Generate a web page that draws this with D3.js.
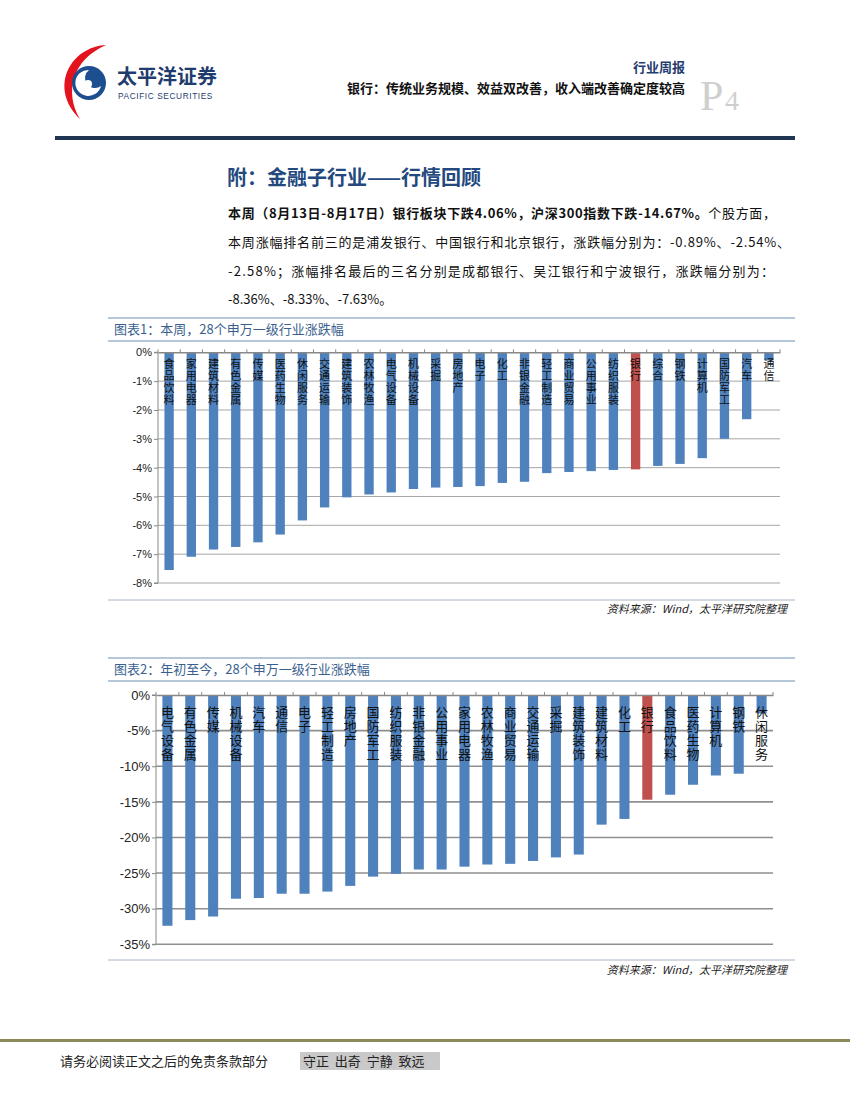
<!DOCTYPE html>
<html><head><meta charset="utf-8">
<script src="https://cdn.jsdelivr.net/npm/d3@7/dist/d3.min.js"></script>
<style>
body{margin:0;background:#fff;}
svg{display:block;font-family:"Noto Sans CJK SC","Noto Sans",sans-serif;}
.vlab{writing-mode:vertical-rl;text-orientation:upright;}
</style></head>
<body><svg id="page" width="850" height="1100"></svg>
<script>
// ---------- DATA ----------
const weekCategories = ["食品饮料","家用电器","建筑材料","有色金属","传媒","医药生物","休闲服务","交通运输","建筑装饰","农林牧渔","电气设备","机械设备","采掘","房地产","电子","化工","非银金融","轻工制造","商业贸易","公用事业","纺织服装","银行","综合","钢铁","计算机","国防军工","汽车","通信"];
const weekValues = [-7.55,-7.09,-6.84,-6.75,-6.59,-6.32,-5.83,-5.38,-5.03,-4.93,-4.86,-4.74,-4.69,-4.67,-4.64,-4.53,-4.49,-4.19,-4.15,-4.12,-4.08,-4.06,-3.94,-3.87,-3.67,-3.0,-2.32,-0.28];
const weekTicks = [0,-1,-2,-3,-4,-5,-6,-7,-8];

const ytdCategories = ["电气设备","有色金属","传媒","机械设备","汽车","通信","电子","轻工制造","房地产","国防军工","纺织服装","非银金融","公用事业","家用电器","农林牧渔","商业贸易","交通运输","采掘","建筑装饰","建筑材料","化工","银行","食品饮料","医药生物","计算机","钢铁","休闲服务"];
const ytdValues = [-32.4,-31.6,-31.1,-28.6,-28.5,-27.9,-27.9,-27.6,-26.8,-25.5,-25.1,-24.5,-24.5,-24.1,-23.8,-23.7,-23.3,-22.8,-22.4,-18.2,-17.4,-14.7,-14.0,-12.6,-11.3,-11.05,-2.6];
const ytdTicks = [0,-5,-10,-15,-20,-25,-30,-35];

const highlight = "银行";
const paraLines = [
  [{t:"本周（8月13日-8月17日）银行板块下跌4.06%，沪深300指数下跌-14.67%。",b:true},{t:"个股方面，",b:false}],
  [{t:"本周涨幅排名前三的是浦发银行、中国银行和北京银行，涨跌幅分别为：-0.89%、-2.54%、",b:false}],
  [{t:"-2.58%；涨幅排名最后的三名分别是成都银行、吴江银行和宁波银行，涨跌幅分别为：",b:false}],
  [{t:"-8.36%、-8.33%、-7.63%。",b:false}]
];

// ---------- PAGE ----------
const svg = d3.select("#page");
const navy = "#1f3c6e";

// logo
svg.append("path").attr("d","M106 45 C70 47 48 88 80 119 C64 92 72 60 106 45 Z").attr("fill","#e4141e");
svg.append("circle").attr("cx",89).attr("cy",83).attr("r",17).attr("fill","#1d4e8f");
svg.append("path").attr("d","M89 70 A13 13 0 1 0 101 86 A8 8 0 1 1 89 70 Z").attr("fill","#fff");
svg.append("circle").attr("cx",88).attr("cy",84).attr("r",4).attr("fill","#fff");
svg.append("text").attr("x",117).attr("y",84).attr("font-size",20).attr("font-weight","bold").attr("fill",navy).text("太平洋证券");
svg.append("text").attr("x",118).attr("y",99).attr("font-size",8.3).attr("fill",navy).attr("font-family","Liberation Sans, Arial").attr("letter-spacing",0.6).text("PACIFIC SECURITIES");

svg.append("text").attr("x",685).attr("y",72).attr("text-anchor","end").attr("font-size",13).attr("font-weight","bold").attr("fill",navy).text("行业周报");
svg.append("text").attr("x",685).attr("y",93).attr("text-anchor","end").attr("font-size",13).attr("font-weight","bold").attr("fill","#111").text("银行：传统业务规模、效益双改善，收入端改善确定度较高");
svg.append("text").attr("x",700).attr("y",110).attr("font-size",42).attr("font-family","Liberation Serif, serif").attr("fill","#cfcfcf").text("P");
svg.append("text").attr("x",725).attr("y",110).attr("font-size",28).attr("font-family","Liberation Serif, serif").attr("fill","#cfcfcf").text("4");
svg.append("rect").attr("x",55).attr("y",136).attr("width",740).attr("height",4).attr("fill","#1f3552");

// section title + paragraph
svg.append("text").attr("x",227).attr("y",185).attr("font-size",20).attr("font-weight","bold").attr("fill","#23497e").text("附：金融子行业——行情回顾");
const lineY = [218,247,276,304];
const lineLen = [548,562,546,null];
paraLines.forEach((segs,i)=>{
  const t = svg.append("text").attr("x",228).attr("y",lineY[i]).attr("font-size",13).attr("fill","#111");
  if(lineLen[i]) t.attr("textLength",lineLen[i]).attr("lengthAdjust","spacing");
  segs.forEach(s=>t.append("tspan").attr("font-weight",s.b?"bold":"normal").text(s.t));
});

// ---------- CHART helper ----------
function chartBox(top, bottom, title, srcY){
  svg.append("line").attr("x1",108).attr("x2",795).attr("y1",top).attr("y2",top).attr("stroke","#6f8fb3").attr("stroke-width",1.2);
  svg.append("line").attr("x1",108).attr("x2",795).attr("y1",top+23).attr("y2",top+23).attr("stroke","#6f8fb3").attr("stroke-width",1.2);
  svg.append("text").attr("x",114).attr("y",top+16).attr("font-size",13).attr("fill","#3a5f8f").text(title);
  svg.append("line").attr("x1",108).attr("x2",795).attr("y1",bottom).attr("y2",bottom).attr("stroke","#a9b4c2").attr("stroke-width",1);
  svg.append("text").attr("x",787).attr("y",srcY).attr("text-anchor","end").attr("font-size",11).attr("font-style","italic").attr("fill","#222").text("资料来源：Wind，太平洋研究院整理");
}

function barChart(opt){
  const {cats, vals, ticks, x0, x1, y0, y1, dom, fs, lfs, lstep, lstart, gridW, gridC, fmt, barFrac} = opt;
  const x = d3.scaleBand().domain(cats).range([x0,x1]).paddingInner(0).paddingOuter(0);
  const y = d3.scaleLinear().domain(dom).range([y0,y1]);
  const g = svg.append("g");
  g.selectAll(".grid").data(ticks.filter(t=>t!==0)).enter().append("line")
    .attr("x1",x0).attr("x2",x1).attr("y1",d=>y(d)).attr("y2",d=>y(d))
    .attr("stroke",gridC).attr("stroke-width",gridW);
  const bw = x.bandwidth()*barFrac;
  g.selectAll(".bar").data(cats).enter().append("rect")
    .attr("x",(d)=>x(d)+(x.bandwidth()-bw)/2)
    .attr("y",y(0))
    .attr("width",bw)
    .attr("height",(d,i)=>y(vals[i])-y(0))
    .attr("fill",d=>d===highlight?"#c0504d":"#4f81bd");
  const ya = d3.axisLeft(y).tickValues(ticks).tickSize(4).tickFormat(fmt);
  const ag = g.append("g").attr("transform",`translate(${x0},0)`).call(ya);
  ag.select(".domain").attr("stroke","#888").attr("d",`M-4,${y0}H0V${y(dom[1])}H-4`);
  ag.selectAll(".tick line").attr("stroke","#888");
  ag.selectAll(".tick text").attr("font-size",fs).attr("fill","#222").attr("font-family","Liberation Sans, Arial").attr("x",-6);
  const xa = d3.axisTop(x).tickSize(0).tickFormat("");
  const xg = g.append("g").attr("transform",`translate(0,${y(0)})`).call(xa);
  xg.select(".domain").attr("stroke","#888").attr("stroke-width",1.5);
  xg.selectAll(".tick").remove();
  g.selectAll(".xt").data(cats.concat(["_end"])).enter().append("line")
    .attr("x1",(d,i)=>x0+i*x.bandwidth()).attr("x2",(d,i)=>x0+i*x.bandwidth())
    .attr("y1",y(0)-3).attr("y2",y(0)).attr("stroke","#888");
  // stacked upright category labels: one vertical-mode text per character
  cats.forEach(c=>{
    [...c].forEach((ch,k)=>g.append("text").attr("class","vlab")
      .attr("font-size",lfs).attr("fill","#111")
      .attr("x",x(c)+x.bandwidth()/2).attr("y",lstart+k*lstep).text(ch));
  });
}

// chart 1
chartBox(318, 600, "图表1：本周，28个申万一级行业涨跌幅", 613);
barChart({cats:weekCategories, vals:weekValues, ticks:weekTicks, x0:158, x1:780, y0:352.3, y1:583, dom:[0,-8],
  fs:11, lfs:11, lstep:12, lstart:358, gridW:1, gridC:"#a6a6a6", fmt:d=>d+"%", barFrac:0.42});

// chart 2
chartBox(658, 960, "图表2：年初至今，28个申万一级行业涨跌幅", 974);
barChart({cats:ytdCategories, vals:ytdValues, ticks:ytdTicks, x0:156, x1:773, y0:695, y1:944.3, dom:[0,-35],
  fs:13, lfs:13, lstep:14, lstart:706, gridW:1.6, gridC:"#8f8f8f", fmt:d=>d+"%", barFrac:0.44});

// footer
svg.append("rect").attr("x",0).attr("y",1039).attr("width",850).attr("height",3).attr("fill","#8c8a5a");
svg.append("rect").attr("x",300).attr("y",1052).attr("width",140).attr("height",18).attr("fill","#c9c9c9");
svg.append("text").attr("x",60).attr("y",1066).attr("font-size",13).attr("fill","#222").text("请务必阅读正文之后的免责条款部分");
svg.append("text").attr("x",303).attr("y",1066).attr("font-size",13).attr("fill","#222").attr("xml:space","preserve").text("守正  出奇  宁静  致远");
</script></body></html>
